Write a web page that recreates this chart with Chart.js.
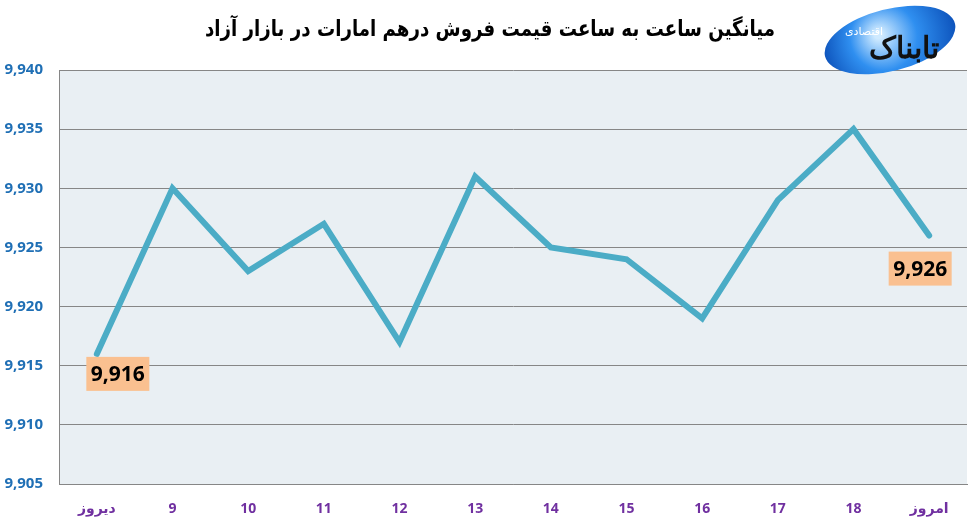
<!DOCTYPE html>
<html>
<head>
<meta charset="utf-8">
<script src="https://cdn.jsdelivr.net/npm/chart.js@4/dist/chart.umd.min.js"></script>
<style>
  html, body { margin: 0; padding: 0; background: #fff; }
  #wrap { width: 977px; height: 525px; position: relative; }
</style>
</head>
<body>
<div id="wrap"><canvas id="rateChart"></canvas></div>
<script>
const chartTitle = "میانگین ساعت به ساعت قیمت فروش درهم امارات در بازار آزاد";
const hours = ["دیروز", "9", "10", "11", "12", "13", "14", "15", "16", "17", "18", "امروز"];
const prices = [9916, 9930, 9923, 9927, 9917, 9931, 9925, 9924, 9919, 9929, 9935, 9926];
const yTicks = [9905, 9910, 9915, 9920, 9925, 9930, 9935, 9940];
const labelledPoints = [0, 11];

const fontStack = '"Open Sans", "DejaVu Sans", sans-serif';
const fmt = v => Number(v).toLocaleString("en-US");

// plot background, title and logo
const decor = {
  id: "decor",
  beforeDraw(chart) {
    const { ctx, chartArea: a } = chart;
    ctx.save();
    ctx.fillStyle = "#e9eff3";
    ctx.fillRect(a.left, a.top, a.right - a.left, a.bottom - a.top);
    ctx.restore();
  },
  afterDraw(chart) {
    const ctx = chart.ctx;
    ctx.save();
    ctx.fillStyle = "#000";
    ctx.font = 'bold 22px "DejaVu Sans", sans-serif';
    ctx.textAlign = "center";
    ctx.textBaseline = "middle";
    ctx.direction = "rtl";
    // squeeze the wide font to the title width of the original
    const w = ctx.measureText(chartTitle).width;
    ctx.save();
    ctx.translate(490, 30);
    ctx.scale(Math.min(1, 570 / w), 1);
    ctx.fillText(chartTitle, 0, 0);
    ctx.restore();

    // logo
    ctx.translate(890, 40);
    ctx.rotate(-0.25);
    const g = ctx.createRadialGradient(-10, -8, 4, 0, 0, 70);
    g.addColorStop(0, "#cfeaff");
    g.addColorStop(0.45, "#2f8ff0");
    g.addColorStop(1, "#0b4fb8");
    ctx.fillStyle = g;
    ctx.beginPath();
    ctx.ellipse(0, 0, 67, 31, 0, 0, Math.PI * 2);
    ctx.fill();
    ctx.rotate(0.25);
    ctx.fillStyle = "#111";
    ctx.font = 'bold 30px "DejaVu Serif", serif';
    ctx.direction = "rtl";
    ctx.fillText("تابناک", 14, 10);
    ctx.fillStyle = "#fff";
    ctx.font = '11px "DejaVu Sans", sans-serif';
    ctx.fillText("اقتصادی", -26, -8);
    ctx.restore();
  }
};

// value boxes at the first and last points
const valueBoxes = {
  id: "valueBoxes",
  afterDatasetsDraw(chart) {
    const { ctx } = chart;
    const pts = chart.getDatasetMeta(0).data;
    const offsets = { 0: [21, 20], 11: [-9, 33] };
    ctx.save();
    ctx.font = "bold 21px " + fontStack;
    ctx.textAlign = "center";
    ctx.textBaseline = "middle";
    labelledPoints.forEach(i => {
      const p = pts[i];
      const cx = p.x + offsets[i][0];
      const cy = p.y + offsets[i][1];
      ctx.fillStyle = "#fac090";
      ctx.fillRect(cx - 31.5, cy - 17, 63, 34);
      ctx.fillStyle = "#000";
      ctx.fillText(fmt(prices[i]), cx, cy + 1);
    });
    ctx.restore();
  }
};

new Chart(document.getElementById("rateChart"), {
  type: "line",
  data: {
    labels: hours,
    datasets: [
      {
        data: prices,
        borderColor: "#4bacc6",
        borderWidth: 6,
        borderCapStyle: "round",
        borderJoinStyle: "miter",
        pointRadius: 0,
        tension: 0,
        fill: false,
      },
    ],
  },
  options: {
    responsive: true,
    maintainAspectRatio: false,
    animation: false,
    layout: {
      padding: { top: 70, right: 10, left: 0, bottom: 0 },
    },
    plugins: {
      legend: { display: false },
      tooltip: { enabled: false },
      title: { display: false },
    },
    scales: {
      x: {
        offset: true,
        grid: { display: false, drawTicks: false },
        border: { display: true, color: "#868686", width: 1 },
        ticks: {
          color: "#7030a0",
          padding: 17,
          font: { family: fontStack, size: 14, weight: "bold" },
        },
        afterFit(scale) {
          scale.height = 41;
        },
      },
      y: {
        min: 9905,
        max: 9940,
        afterBuildTicks(scale) {
          scale.ticks = yTicks.map(v => ({ value: v }));
        },
        grid: { color: "#868686", lineWidth: 1, drawTicks: false },
        border: { display: true, color: "#868686", width: 1 },
        ticks: {
          color: "#1f6fb5",
          padding: 16,
          font: { family: fontStack, size: 15, weight: "bold" },
          callback: v => fmt(v),
        },
        afterFit(scale) {
          scale.width = 59;
        },
      },
    },
  },
  plugins: [decor, valueBoxes],
});
</script>
</body>
</html>
